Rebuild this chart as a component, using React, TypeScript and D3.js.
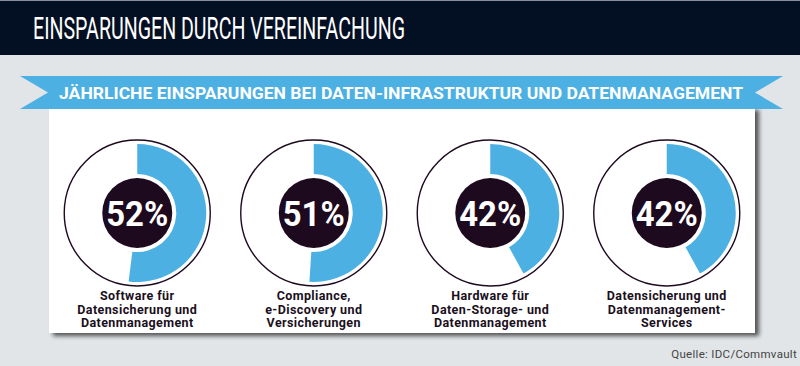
import * as d3 from "d3";

// Werte aus der Grafik
const values = [52, 51, 42, 42];
const labels = [
  ["Software für", "Datensicherung und", "Datenmanagement"],
  ["Compliance,", "e-Discovery und", "Versicherungen"],
  ["Hardware für", "Daten-Storage- und", "Datenmanagement"],
  ["Datensicherung und", "Datenmanagement-", "Services"],
];
const title = "EINSPARUNGEN DURCH VEREINFACHUNG";
const subtitle = "JÄHRLICHE EINSPARUNGEN BEI DATEN-INFRASTRUKTUR UND DATENMANAGEMENT";
const source = "Quelle: IDC/Commvault";

export default function App() {
  const width = 800;
  const height = 366;

  // card + banner geometry
  const card = { x0: 49, x1: 755, y0: 109, y1: 333 };
  const banner = { x0: 20, x1: 783, y0: 76, y1: 109, notch: 28 };
  const cy = 213;

  const xScale = d3
    .scalePoint<number>()
    .domain(values.map((_, i) => i))
    .range([card.x0, card.x1])
    .padding(0.5);

  const angle = d3.scaleLinear().domain([0, 100]).range([0, 2 * Math.PI]);

  const arc = d3
    .arc<number>()
    .innerRadius(39)
    .outerRadius(69)
    .startAngle(0)
    .endAngle((d) => angle(d));

  const font = "Roboto, 'DejaVu Sans', sans-serif";
  const dark = "#1e0a1e";
  const blue = "#4cb0e3";

  const midY = (banner.y0 + banner.y1) / 2;
  const bannerPath = [
    [banner.x0, banner.y0],
    [banner.x1, banner.y0],
    [banner.x1 - banner.notch, midY],
    [banner.x1, banner.y1],
    [banner.x0, banner.y1],
    [banner.x0 + banner.notch, midY],
  ];

  return (
    <>
      <style>{"body{margin:0}"}</style>
      <svg width={width} height={height} style={{ display: "block" }}>
        <defs>
          <filter id="shadow" x="-5%" y="-5%" width="115%" height="120%">
            <feDropShadow dx="4" dy="3" stdDeviation="2" floodColor="#222" floodOpacity="0.75" />
          </filter>
        </defs>

        <rect x={0} y={0} width={width} height={height} fill="#e1e5e8" />
        <rect x={0} y={0} width={width} height={55} fill="#030f23" />
        <rect x={0} y={0} width={width} height={1} fill="#8a9098" />
        <text
          x={33}
          y={38.5}
          fill="#fff"
          fontFamily={font}
          fontSize={31}
          textLength={372}
          lengthAdjust="spacingAndGlyphs"
        >
          {title}
        </text>

        <rect
          x={card.x0}
          y={card.y0 - 2}
          width={card.x1 - card.x0}
          height={card.y1 - card.y0 + 2}
          fill="#fff"
          filter="url(#shadow)"
        />

        <polygon points={bannerPath.map((p) => p.join(",")).join(" ")} fill={blue} />
        <text
          x={59}
          y={99}
          fill="#fff"
          fontFamily={font}
          fontWeight="bold"
          fontSize={16.5}
          textLength={684}
          lengthAdjust="spacingAndGlyphs"
        >
          {subtitle}
        </text>

        {values.map((v, i) => {
          const cx = xScale(i) as number;
          return (
            <g key={i} transform={`translate(${cx},${cy})`}>
              <circle r={73} fill="#fff" stroke={dark} strokeWidth={1.4} />
              <path d={arc(v) ?? ""} fill={blue} />
              <circle r={35} fill={dark} />
              <text
                y={13}
                textAnchor="middle"
                fill="#fff"
                fontFamily={font}
                fontWeight="bold"
                fontSize={35}
                textLength={62}
                lengthAdjust="spacingAndGlyphs"
              >
                {`${v}%`}
              </text>
              {labels[i].map((line, j) => (
                <text
                  key={j}
                  y={87 + j * 13.5}
                  textAnchor="middle"
                  fill="#1a0f1c"
                  fontFamily={font}
                  fontWeight="bold"
                  fontSize={12.5}
                  letterSpacing={0.4}
                >
                  {line}
                </text>
              ))}
            </g>
          );
        })}

        <text
          x={797}
          y={358}
          textAnchor="end"
          fill="#444"
          fontFamily={font}
          fontSize={11.5}
          letterSpacing={0.3}
        >
          {source}
        </text>
      </svg>
    </>
  );
}
